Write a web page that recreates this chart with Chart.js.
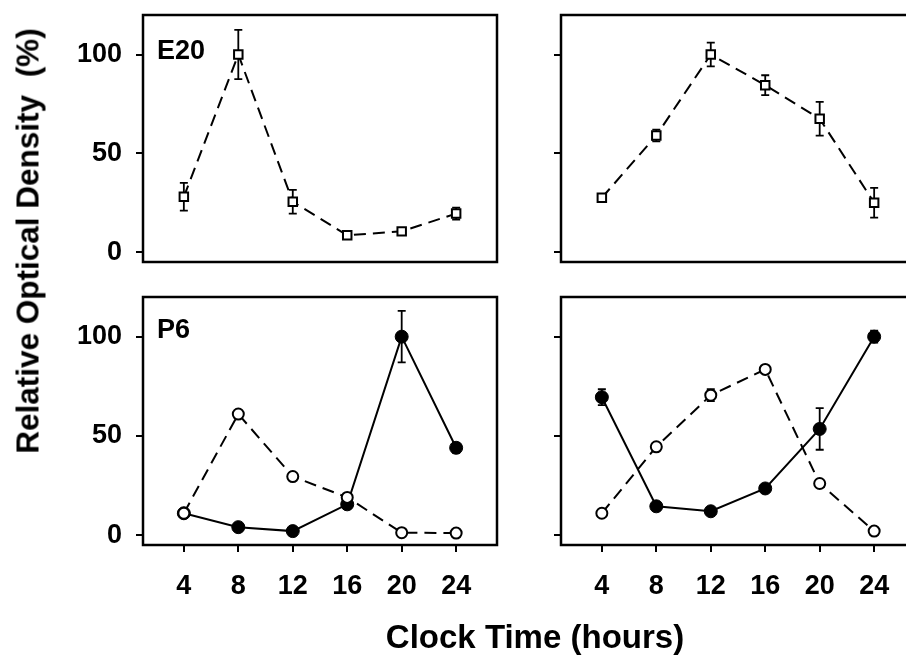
<!DOCTYPE html>
<html>
<head>
<meta charset="utf-8">
<script src="https://cdn.jsdelivr.net/npm/chart.js@4"></script>
<style>
  html, body { margin: 0; padding: 0; background: #fff; overflow: hidden; }
  body { width: 906px; height: 663px; position: relative; font-family: 'Liberation Sans', Arial, sans-serif; }
  .panel { position: absolute; }
  .ytitle {
    position: absolute; left: 28px; top: 241px; font-weight: bold; font-size: 31.5px;
    white-space: pre; transform: translate(-50%, -50%) rotate(-90deg); color: #000;
  }
  .xtitle {
    position: absolute; left: 535px; top: 637px; font-weight: bold; font-size: 33px;
    white-space: pre; transform: translate(-50%, -50%); color: #000;
  }
</style>
</head>
<body>
<div class="panel" style="left:0;top:0"><canvas id="tl" width="520" height="280"></canvas></div>
<div class="panel" style="left:520px;top:0"><canvas id="tr" width="420" height="280"></canvas></div>
<div class="panel" style="left:0;top:280px"><canvas id="bl" width="520" height="383"></canvas></div>
<div class="panel" style="left:520px;top:280px"><canvas id="br" width="420" height="383"></canvas></div>
<div class="ytitle">Relative Optical Density  (%)</div>
<div class="xtitle">Clock Time (hours)</div>
<script>
// clock times (hours)
const hours = [4, 8, 12, 16, 20, 24];
const xTicks = [4, 8, 12, 16, 20, 24];
const yTicks = [0, 50, 100];

// E20, left panel (open squares)
const e20A = [28, 100, 25.5, 8.5, 10.5, 19.5];
const e20AErr = [7, 12.5, 6, 1.5, 1.5, 3];
// E20, right panel
const e20B = [27.5, 59, 100, 84.5, 67.5, 25];
const e20BErr = [1.5, 3, 6, 5, 8.5, 7.5];

// P6, left panel
const p6AOpen = [11, 61, 29.5, 19, 1.2, 1];
const p6AOpenErr = [0, 1.5, 1.5, 1, 0, 0];
const p6AFilled = [11, 4, 2, 15.5, 100, 44];
const p6AFilledErr = [2, 1, 1, 2, 13, 2.5];
// P6, right panel
const p6BOpen = [11, 44.5, 70.5, 83.5, 26, 2];
const p6BOpenErr = [0, 1, 3, 1, 1, 0];
const p6BFilled = [69.5, 14.5, 12, 23.5, 53.5, 100];
const p6BFilledErr = [4, 2, 1, 1.5, 10.5, 3];

const FONT = "'Liberation Sans', Arial, sans-serif";

const framePlugin = {
  id: 'frame',
  beforeDatasetsDraw(chart, args, opts) {
    const ctx = chart.ctx;
    const xs = chart.scales.x, ys = chart.scales.y;
    ctx.save();
    ctx.strokeStyle = '#000';
    ctx.lineWidth = 1.8;
    chart.data.datasets.forEach((ds, di) => {
      const errs = (opts.errs || [])[di] || [];
      ds.data.forEach((p, i) => {
        const e = errs[i];
        if (!e) return;
        const px = xs.getPixelForValue(p.x);
        const top = ys.getPixelForValue(p.y + e);
        const bot = ys.getPixelForValue(p.y - e);
        ctx.beginPath();
        ctx.moveTo(px, top); ctx.lineTo(px, bot);
        ctx.moveTo(px - 4, top); ctx.lineTo(px + 4, top);
        ctx.moveTo(px - 4, bot); ctx.lineTo(px + 4, bot);
        ctx.stroke();
      });
    });
    ctx.restore();
  },
  afterDraw(chart, args, opts) {
    const ctx = chart.ctx;
    const a = chart.chartArea;
    ctx.save();
    ctx.strokeStyle = '#000';
    ctx.lineWidth = 2.5;
    ctx.strokeRect(a.left, a.top, a.right - a.left, a.bottom - a.top);
    if (opts.label) {
      ctx.fillStyle = '#000';
      ctx.font = 'bold 27px ' + FONT;
      ctx.textBaseline = 'middle';
      ctx.textAlign = 'left';
      ctx.fillText(opts.label, a.left + 14, a.top + opts.labelDy);
    }
    ctx.restore();
  }
};

function points(vals) {
  return hours.map((h, i) => ({ x: h, y: vals[i] }));
}

function openSquares(vals) {
  return {
    data: points(vals), borderColor: '#000', borderWidth: 2, borderDash: [12, 7],
    pointStyle: 'rect', pointRadius: 6, pointBackgroundColor: '#fff',
    pointBorderColor: '#000', pointBorderWidth: 2, tension: 0
  };
}
function openCircles(vals) {
  return {
    data: points(vals), borderColor: '#000', borderWidth: 2, borderDash: [12, 7],
    pointStyle: 'circle', pointRadius: 5.5, pointBackgroundColor: '#fff',
    pointBorderColor: '#000', pointBorderWidth: 2, tension: 0
  };
}
function filledCircles(vals) {
  return {
    data: points(vals), borderColor: '#000', borderWidth: 2,
    pointStyle: 'circle', pointRadius: 6.5, pointBackgroundColor: '#000',
    pointBorderColor: '#000', pointBorderWidth: 1, tension: 0
  };
}

function makeChart(id, datasets, cfg) {
  const tickMarks = { display: true, drawOnChartArea: false, drawTicks: true, tickLength: 7, color: '#000', lineWidth: 2 };
  return new Chart(document.getElementById(id), {
    type: 'line',
    data: { datasets },
    options: {
      responsive: false,
      animation: false,
      layout: { padding: cfg.padding },
      plugins: {
        legend: { display: false },
        tooltip: { enabled: false },
        frame: { errs: cfg.errs, label: cfg.label, labelDy: cfg.labelDy }
      },
      scales: {
        x: {
          type: 'linear', min: 1, max: 27,
          display: cfg.showX,
          afterBuildTicks: (s) => { s.ticks = xTicks.map(v => ({ value: v })); },
          afterFit: (s) => { s.height = cfg.xHeight; s.paddingLeft = 0; s.paddingRight = 0; },
          grid: tickMarks,
          border: { display: false },
          ticks: { color: '#000', padding: 18, font: { size: 27, weight: 'bold', family: FONT } }
        },
        y: {
          type: 'linear', min: -5, max: 120,
          afterBuildTicks: (s) => { s.ticks = yTicks.map(v => ({ value: v })); },
          afterFit: (s) => { s.width = cfg.yWidth; s.paddingTop = 0; s.paddingBottom = 0; },
          grid: tickMarks,
          border: { display: false },
          ticks: { display: cfg.showYLabels, color: '#000', padding: 14, font: { size: 27, weight: 'bold', family: FONT } }
        }
      }
    },
    plugins: [framePlugin]
  });
}

// top left: chart area 143..497 x 15..262
makeChart('tl', [openSquares(e20A)], {
  padding: { left: 0, right: 23, top: 15, bottom: 18 },
  yWidth: 143, showX: false, xHeight: 0, showYLabels: true,
  errs: [e20AErr], label: 'E20', labelDy: 37
});
// top right: chart area 561..915 x 15..262
makeChart('tr', [openSquares(e20B)], {
  padding: { left: 0, right: 25, top: 15, bottom: 18 },
  yWidth: 41, showX: false, xHeight: 0, showYLabels: false,
  errs: [e20BErr]
});
// bottom left: chart area 143..497 x 297..545
makeChart('bl', [openCircles(p6AOpen), filledCircles(p6AFilled)], {
  padding: { left: 0, right: 23, top: 17, bottom: 58 },
  yWidth: 143, showX: true, xHeight: 60, showYLabels: true,
  errs: [p6AOpenErr, p6AFilledErr], label: 'P6', labelDy: 34
});
// bottom right: chart area 561..915 x 297..545
makeChart('br', [openCircles(p6BOpen), filledCircles(p6BFilled)], {
  padding: { left: 0, right: 25, top: 17, bottom: 58 },
  yWidth: 41, showX: true, xHeight: 60, showYLabels: false,
  errs: [p6BOpenErr, p6BFilledErr]
});
</script>
</body>
</html>
